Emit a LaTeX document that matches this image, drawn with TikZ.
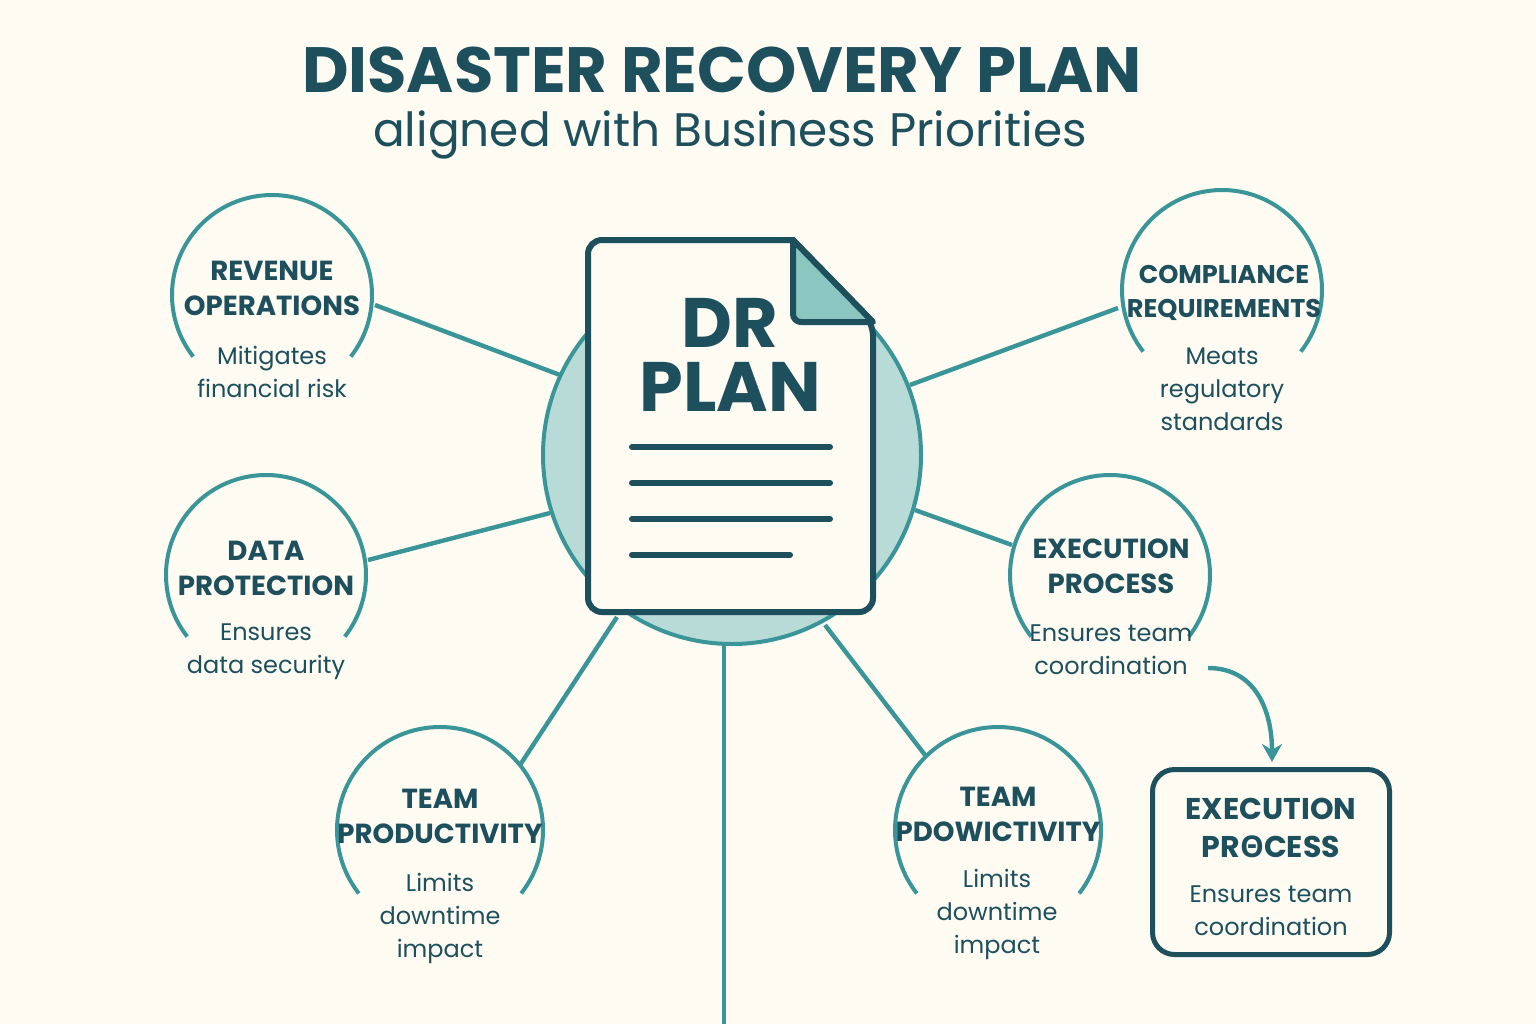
\documentclass[tikz,border=0pt]{standalone}
\usepackage{fontspec}
\setmainfont{Poppins}
\newfontfamily\osans{Open Sans}
\usetikzlibrary{arrows.meta}
\definecolor{bg}{HTML}{FDFBF2}
\definecolor{teal}{HTML}{3A9598}
\definecolor{dark}{HTML}{1E4F5C}
\definecolor{lt}{HTML}{B9DBD8}
\definecolor{fold}{HTML}{8CC6C0}
\begin{document}
\begin{tikzpicture}[x=0.5pt,y=-0.5pt,
  conn/.style={teal,line width=2.2pt},
  arcc/.style={teal,line width=2pt},
  ttl/.style={text=dark,font=\bfseries\fontsize{13.8}{17.5}\selectfont,align=center},
  dsc/.style={text=dark,font=\fontsize{12}{16.5}\selectfont,align=center}]
\fill[bg] (0,0) rectangle (1536,1024);
\useasboundingbox (0,0) rectangle (1536,1024);
\node[text=dark,font=\bfseries\fontsize{32}{35}\selectfont] (t) at (722,70) {DISASTER RECOVERY PLAN};
\node[text=dark,font=\fontsize{23.5}{27}\selectfont] (st) at (730,135) {aligned with Business Priorities};
% coordinates
\coordinate (a1) at (375,305); \coordinate (b1) at (560,375);
\coordinate (a2) at (1118,308); \coordinate (b2) at (910,385);
\coordinate (a3) at (368,560); \coordinate (b3) at (550,513);
\coordinate (a4) at (1012,545); \coordinate (b4) at (915,510);
\coordinate (a5) at (520,765); \coordinate (b5) at (617,617);
\coordinate (a6) at (925,755); \coordinate (b6) at (825,625);
\coordinate (a7) at (724,1024); \coordinate (b7) at (724,640);
\foreach \i in {1,...,7}{\draw[conn] (a\i) -- (b\i);}
\node[circle,fill=lt,draw=teal,line width=2pt,minimum size=189pt] (c) at (732,455) {};
% document
\draw[dark,line width=3pt,fill=bg,rounded corners=7pt] (793,240) -- (588,240) -- (588,612) -- (873,612) -- (873,322) [sharp corners]-- cycle;
\draw[dark,line width=3pt,fill=fold,line join=round] (793,240) [rounded corners=4pt]-- (793,322) [sharp corners]-- (873,322) -- cycle;
\node[text=dark,font=\bfseries\fontsize{35}{36}\selectfont,align=center] (dr) at (730,355) {DR\\[-4pt]PLAN};
\foreach \y/\e in {447/830,483/830,519/830,555/790}{\draw[dark,line width=3pt,line cap=round] (632,\y) -- (\e,\y);}
% arcs
\foreach \x/\y/\r in {272/295/100,1222/290/100,266/575/100,1110/575/100,440/830/103,998/830/103}{
  \draw[arcc] (\x,\y) ++(38:\r) arc[start angle=38,end angle=-218,radius=\r];}
\node[ttl] (n1) at (272,288) {REVENUE\\OPERATIONS};
\node[ttl,font=\bfseries\fontsize{12.8}{17}\selectfont] (n2) at (1224,293) {COMPLIANCE\\REQUIREMENTS};
\node[dsc] (d1) at (272,372) {Mitigates\\financial risk};
\node[dsc] (d2) at (1222,389) {Meats\\regulatory\\standards};
\node[ttl] (n3) at (266,568) {DATA\\PROTECTION};
\node[dsc] (d3) at (266,652) {Ensures\\data security};
\node[ttl] (n4) at (1111,566) {EXECUTION\\PROCESS};
\node[dsc] (d4) at (1111,650) {Ensures team\\coordination};
\node[ttl] (n5) at (440,816) {TEAM\\PRODUCTIVITY};
\node[dsc] (d5) at (440,918) {Limits\\downtime\\impact};
\node[ttl] (n6) at (998,814) {TEAM\\PDOWICTIVITY};
\node[dsc] (d6) at (997,914) {Limits\\downtime\\impact};
\node[draw=dark,line width=2.5pt,rounded corners=11pt,minimum width=118.5pt,minimum height=92.5pt,fill=bg] (bx) at (1271,862) {};
\node[ttl,font=\bfseries\fontsize{15}{19}\selectfont] (bt) at (1271,828) {EXECUTION\\PR{\osans\bfseries Θ}CESS};
\node[dsc] (bd) at (1271,911) {Ensures team\\coordination};
\coordinate (s) at (1208,668);
\coordinate (e) at (1272,762);
\draw[conn,-{Stealth[length=9pt,width=10pt]}] (s) .. controls (1255,668) and (1272,710) .. (e);
\end{tikzpicture}
\end{document}
